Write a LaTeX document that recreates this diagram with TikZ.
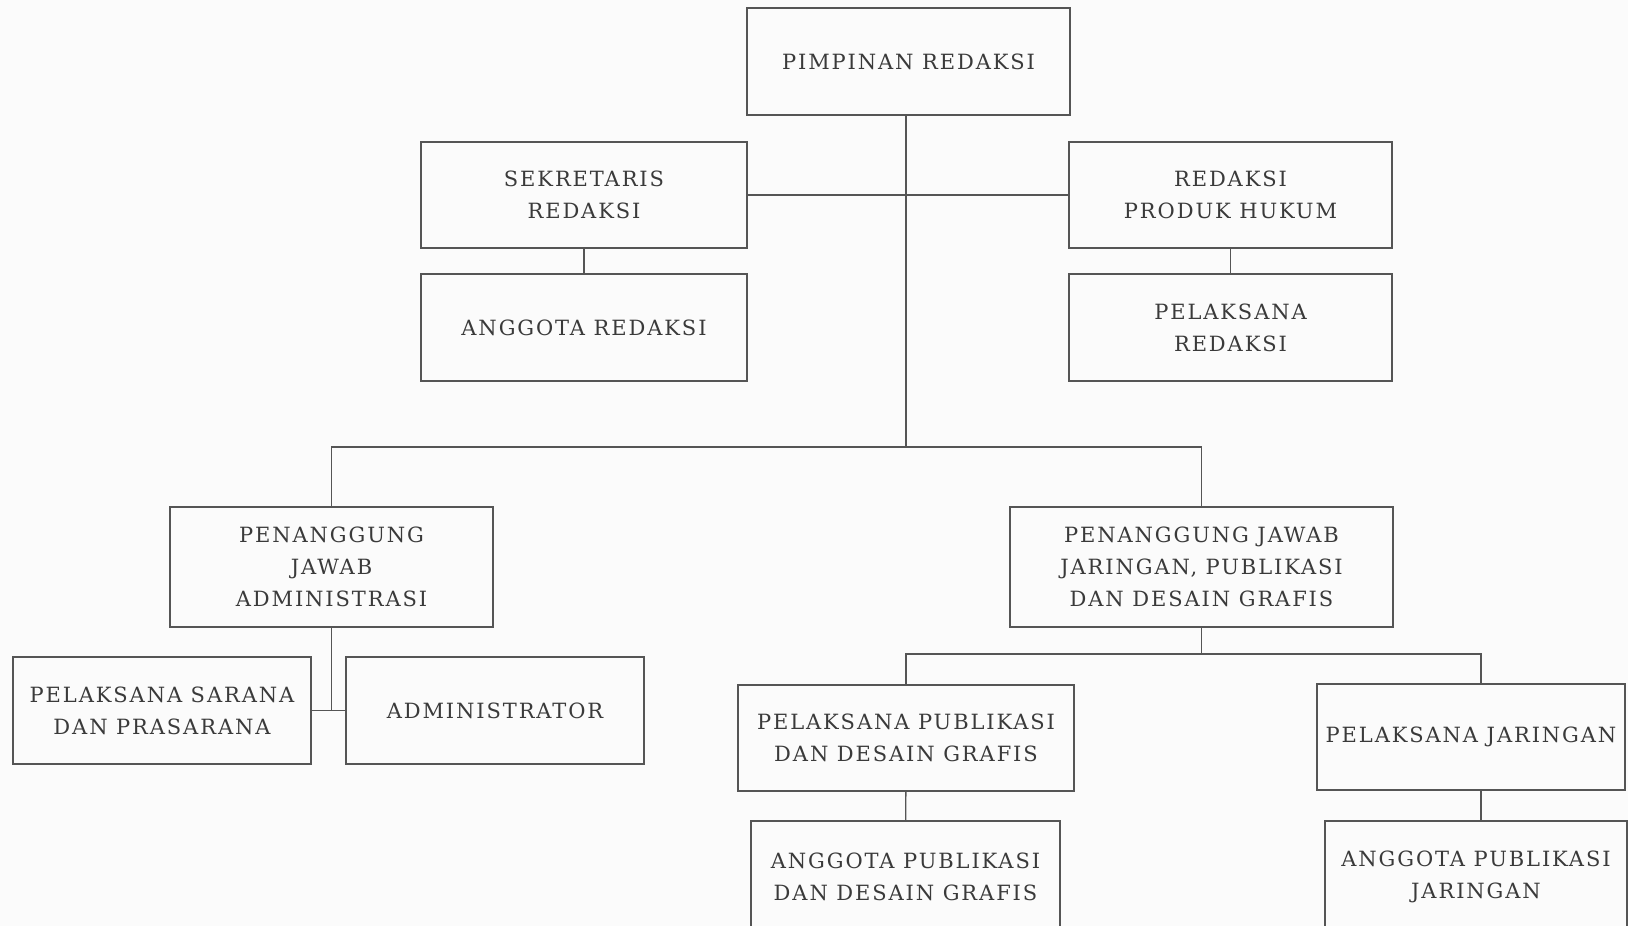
\documentclass[tikz,border=0pt]{standalone}
\usepackage{fontspec}
\setmainfont{DejaVu Serif}[LetterSpace=9]
\usepackage{xcolor}
\definecolor{inkgray}{HTML}{3A3A3A}
\definecolor{rulegray}{HTML}{555555}
\definecolor{papergray}{HTML}{FBFBFB}
\tikzset{
  orgbox/.style={draw=rulegray, line width=1.4pt, align=center, text=inkgray,
    font=\fontsize{21}{32}\selectfont, inner sep=0pt},
  link/.style={draw=rulegray, line width=1.4pt}
}

\begin{document}
\begin{tikzpicture}[x=1pt,y=-1pt]
  \fill[papergray] (0,0) rectangle (1628,926);
  \useasboundingbox (0,0) rectangle (1628,926);
  \clip (0,0) rectangle (1628,926);
  \node[orgbox, minimum width=323, minimum height=107] (pimpinan) at (908.5,61.5) {PIMPINAN REDAKSI};
  \node[orgbox, minimum width=326, minimum height=106] (sekretaris) at (584,195) {SEKRETARIS\\REDAKSI};
  \node[orgbox, minimum width=323, minimum height=106] (produk) at (1230.5,195) {REDAKSI\\PRODUK HUKUM};
  \node[orgbox, minimum width=326, minimum height=107] (anggota) at (584,327.5) {ANGGOTA REDAKSI};
  \node[orgbox, minimum width=323, minimum height=107] (pelred) at (1230.5,327.5) {PELAKSANA\\REDAKSI};
  \node[orgbox, minimum width=323, minimum height=120] (pjadm) at (331.5,567) {PENANGGUNG\\JAWAB\\ADMINISTRASI};
  \node[orgbox, minimum width=383, minimum height=120] (pjjar) at (1201.5,567) {PENANGGUNG JAWAB\\JARINGAN, PUBLIKASI\\DAN DESAIN GRAFIS};
  \node[orgbox, minimum width=298, minimum height=107] (sarana) at (162,710.5) {PELAKSANA SARANA\\DAN PRASARANA};
  \node[orgbox, minimum width=298, minimum height=107] (admin) at (495,710.5) {ADMINISTRATOR};
  \node[orgbox, minimum width=336, minimum height=106] (pelpub) at (906,738) {PELAKSANA PUBLIKASI\\DAN DESAIN GRAFIS};
  \node[orgbox, minimum width=308, minimum height=106] (peljar) at (1471,737) {PELAKSANA JARINGAN};
  \node[orgbox, minimum width=309, minimum height=112] (angpub) at (905.5,877) {ANGGOTA PUBLIKASI\\DAN DESAIN GRAFIS};
  \node[orgbox, minimum width=302, minimum height=112] (angjar) at (1476,877) {ANGGOTA PUBLIKASI\\JARINGAN};
  \coordinate (bar) at (906,447);
  \coordinate (jbar) at (1201.5,654);
  \coordinate (jr) at (1481,654);
  \draw[link] (bar |- pimpinan.south) -- (bar);
  \draw[link] (sekretaris.east) -- (produk.west);
  \draw[link] (sekretaris) -- (anggota);
  \draw[link] (produk) -- (pelred);
  \draw[link] (pjadm.north) |- (bar) -| (pjjar.north);
  \draw[link] (pjadm.south) -- (pjadm.south |- sarana.east);
  \draw[link] (sarana.east) -- (admin.west);
  \draw[link] (pjjar.south) -- (jbar);
  \draw[link] (pelpub.north) |- (jr) -- (jr |- peljar.north);
  \draw[link] (pelpub) -- (angpub);
  \draw[link] (jr |- peljar.south) -- (jr |- angjar.north);
\end{tikzpicture}
\end{document}
